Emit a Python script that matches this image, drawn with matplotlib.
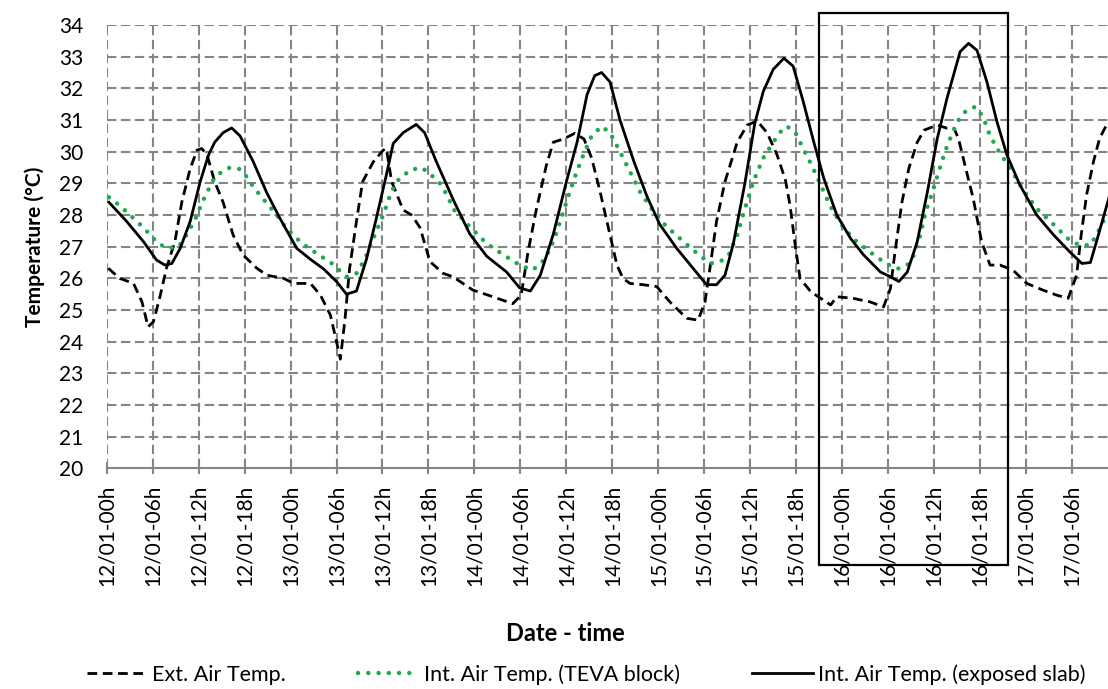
import numpy as np
import matplotlib.pyplot as plt
from matplotlib.patches import Rectangle
import matplotlib.transforms as mtransforms

plt.rcParams['font.family'] = ['Lato', 'DejaVu Sans']

# hours since 12/01 00h
tick_labels = ["12/01-00h", "12/01-06h", "12/01-12h", "12/01-18h",
               "13/01-00h", "13/01-06h", "13/01-12h", "13/01-18h",
               "14/01-00h", "14/01-06h", "14/01-12h", "14/01-18h",
               "15/01-00h", "15/01-06h", "15/01-12h", "15/01-18h",
               "16/01-00h", "16/01-06h", "16/01-12h", "16/01-18h",
               "17/01-00h", "17/01-06h"]
tick_hours = [0, 6, 12, 18, 24, 30, 36, 42, 48, 54, 60, 66, 72, 78, 84, 90,
              96, 102, 108, 114, 120, 126]

# Ext. Air Temp.
ext_h = [0.2, 1.7, 3.5, 4.6, 5.4, 6.1, 7.0, 7.8, 8.9, 9.8, 10.9, 11.8, 12.4, 13.1,
         14.1, 15.2, 16.5, 17.8, 19.6, 20.9, 23.1, 24.4, 26.6, 27.9, 29.2, 30.0,
         30.5, 31.1, 31.7, 32.6, 33.4, 34.8, 36.1, 36.5, 37.2, 38.7, 39.8, 40.9,
         42.2, 43.9, 45.2, 47.8, 50.4, 53.0, 54.1, 55.0, 56.1, 57.4, 58.3, 59.6,
         61.1, 62.3, 63.3, 64.4, 65.5, 66.6, 67.4, 68.3, 70.0, 71.8, 73.5, 75.7,
         77.2, 78.1, 78.8, 79.6, 80.7, 82.3, 83.6, 84.9, 86.2, 87.5, 88.6, 89.2,
         89.9, 90.5, 91.9, 93.2, 94.5, 95.3, 97.4, 99.6, 101.4, 102.3, 102.9,
         103.8, 104.7, 105.8, 106.7, 108.4, 109.7, 110.6, 111.2, 112.0, 113.1,
         114.2, 115.3, 116.6, 118.3, 120.1, 122.2, 124.0, 125.5, 126.6, 127.2,
         127.9, 128.8, 129.6, 130.5]
ext_t = [26.32, 26.0, 25.84, 25.26, 24.47, 24.63, 25.47, 26.32, 27.16, 28.4, 29.47,
         30.05, 30.1, 29.9, 29.05, 28.4, 27.37, 26.74, 26.32, 26.1, 26.0, 25.84,
         25.84, 25.47, 24.84, 24.0, 23.45, 24.7, 26.3, 27.8, 29.05, 29.68, 30.05,
         30.1, 29.05, 28.16, 28.0, 27.6, 26.53, 26.16, 26.05, 25.63, 25.42, 25.2,
         25.47, 26.84, 28.2, 29.58, 30.3, 30.4, 30.58, 30.4, 29.8, 28.74, 27.58,
         26.42, 26.0, 25.84, 25.8, 25.74, 25.26, 24.74, 24.68, 25.26, 26.42, 27.8,
         29.05, 30.3, 30.84, 30.97, 30.6, 29.9, 29.1, 28.3, 27.0, 26.0, 25.58,
         25.37, 25.16, 25.42, 25.37, 25.26, 25.1, 25.68, 26.84, 28.4, 29.47, 30.3,
         30.68, 30.84, 30.74, 30.74, 30.4, 29.6, 28.53, 27.16, 26.42, 26.42, 26.26,
         25.84, 25.63, 25.47, 25.37, 26.1, 27.37, 28.63, 29.68, 30.42, 30.84]

# Int. Air Temp. (TEVA block)
teva_h = [0.3, 1.7, 3.5, 4.8, 5.7, 6.7, 8.0, 9.4, 10.4, 11.5, 12.6, 13.9, 15.0,
          16.1, 17.4, 18.3, 19.1, 20.9, 22.2, 23.4, 25.5, 27.7, 29.4, 31.3, 32.6,
          33.7, 34.8, 36.1, 37.0, 37.8, 39.6, 41.1, 42.2, 43.5, 44.5, 45.2, 47.4,
          49.6, 51.8, 53.9, 55.6, 57.2, 58.3, 59.4, 60.3, 61.2, 62.3, 63.3, 64.6,
          65.7, 67.0, 68.3, 69.6, 71.4, 73.1, 75.3, 77.3, 78.8, 80.1, 81.2, 82.3,
          83.3, 84.4, 85.7, 87.0, 88.3, 88.8, 89.9, 90.9, 92.0, 93.3, 94.4, 95.9,
          97.4, 99.6, 101.7, 103.2, 104.5, 105.4, 106.2, 106.9, 107.8, 108.6,
          109.5, 110.4, 111.2, 112.2, 113.4, 114.4, 115.3, 116.6, 117.9, 119.6,
          121.4, 123.6, 125.7, 127.0, 128.4, 129.2, 130.5]
teva_t = [28.56, 28.3, 27.9, 27.6, 27.37, 27.1, 26.95, 27.0, 27.37, 27.84, 28.47,
          29.1, 29.37, 29.5, 29.45, 29.2, 28.9, 28.37, 28.0, 27.6, 27.1, 26.74,
          26.47, 26.05, 26.16, 26.6, 27.26, 28.0, 28.63, 29.05, 29.42, 29.5, 29.3,
          29.0, 28.6, 28.2, 27.63, 27.1, 26.74, 26.42, 26.26, 26.6, 27.16, 27.95,
          28.63, 29.26, 29.95, 30.5, 30.8, 30.6, 30.0, 29.37, 28.74, 28.1, 27.63,
          27.16, 26.74, 26.47, 26.53, 26.74, 27.37, 28.2, 29.05, 29.8, 30.3, 30.74,
          30.8, 30.6, 30.1, 29.58, 28.9, 28.3, 27.7, 27.26, 26.84, 26.47, 26.3,
          26.42, 26.74, 27.37, 28.1, 28.74, 29.37, 30.05, 30.6, 31.0, 31.3, 31.42,
          31.1, 30.5, 29.95, 29.5, 28.8, 28.2, 27.7, 27.2, 27.05, 27.05, 27.37, 28.0]

# Int. Air Temp. (exposed slab)
slab_h = [0.3, 2.6, 4.8, 6.5, 7.6, 8.5, 9.6, 10.9, 12.2, 13.3, 14.1, 15.2, 16.3,
          17.4, 19.1, 20.9, 22.6, 24.8, 26.6, 28.3, 30.0, 31.3, 32.6, 33.9, 35.2,
          36.5, 37.4, 38.7, 40.4, 41.5, 43.0, 45.2, 47.4, 49.6, 52.2, 53.9, 55.3,
          56.6, 58.3, 60.0, 61.4, 62.7, 63.7, 64.6, 65.7, 67.0, 68.8, 70.5, 72.2,
          74.4, 76.6, 78.3, 79.6, 80.7, 81.8, 83.3, 84.6, 85.7, 87.0, 88.4, 89.6,
          90.9, 92.3, 93.6, 95.3, 97.1, 98.8, 101.0, 102.3, 103.4, 104.5, 105.8,
          107.1, 108.4, 109.7, 111.4, 112.5, 113.6, 114.9, 116.2, 117.5, 119.2,
          121.4, 123.6, 125.7, 127.3, 128.4, 129.2, 130.3, 131.0]
slab_t = [28.4, 27.8, 27.16, 26.58, 26.42, 26.47, 26.95, 27.8, 29.05, 29.9, 30.3,
          30.6, 30.75, 30.5, 29.7, 28.7, 27.9, 26.95, 26.6, 26.3, 25.9, 25.5, 25.6,
          26.6, 27.9, 29.26, 30.26, 30.6, 30.86, 30.6, 29.7, 28.5, 27.4, 26.7, 26.2,
          25.7, 25.6, 26.1, 27.4, 29.05, 30.3, 31.8, 32.4, 32.5, 32.2, 31.0, 29.7,
          28.6, 27.7, 26.95, 26.3, 25.8, 25.8, 26.1, 27.1, 29.0, 30.9, 31.9, 32.6,
          32.95, 32.7, 31.6, 30.3, 29.16, 28.0, 27.26, 26.74, 26.2, 26.05, 25.9,
          26.2, 27.16, 28.7, 30.4, 31.7, 33.16, 33.42, 33.2, 32.2, 30.95, 29.9,
          28.95, 28.0, 27.37, 26.84, 26.47, 26.5, 27.16, 28.1, 28.7]

highlight = (93.0, 117.6)

fig = plt.figure(figsize=(11.08, 6.89), dpi=100)
ax = fig.add_axes([0.0963, 0.3202, 0.9037, 0.6435])

grid_kw = dict(color='#858585', linewidth=1.5, linestyle=(0, (4.5, 2.2)), zorder=0)
for y in range(21, 35):
    ax.axhline(y, **grid_kw)
for h in tick_hours:
    ax.axvline(h, **grid_kw)

ax.plot(ext_h, ext_t, color='black', linewidth=2, linestyle=(0, (3.5, 2)),
        label='Ext. Air Temp.')
ax.plot(teva_h, teva_t, color='#1fa84f', linewidth=3.2, linestyle=(0, (0.01, 2.3)),
        dash_capstyle='round', label='Int. Air Temp. (TEVA block)')
ax.plot(slab_h, slab_t, color='black', linewidth=2,
        label='Int. Air Temp. (exposed slab)')

ax.set_xlim(0, 130.7)
ax.set_ylim(20, 34)
ax.set_yticks(range(20, 35))
ax.set_xticks(tick_hours)
ax.set_xticklabels(tick_labels, rotation=90, fontsize=15)
ax.tick_params(axis='y', length=0, pad=17, labelsize=15)
ax.tick_params(axis='x', direction='inout', length=8, width=1.5, color='#858585', pad=8)

for s in ['top', 'right', 'left']:
    ax.spines[s].set_visible(False)
ax.spines['bottom'].set_color('#858585')
ax.spines['bottom'].set_linewidth(1.5)

ax.set_ylabel('Temperature (°C)', fontsize=15, fontweight='bold', labelpad=10)
fig.text(0.51, 0.081, 'Date - time', fontsize=17, fontweight='bold', ha='center', va='center')

trans = mtransforms.blended_transform_factory(ax.transData, ax.transAxes)
box = Rectangle((highlight[0], -0.218), highlight[1] - highlight[0], 1.246,
                transform=trans, fill=False, edgecolor='black', linewidth=1.6,
                clip_on=False, zorder=5)
ax.add_patch(box)

fig.legend(loc='center', bbox_to_anchor=(0.529, 0.021), ncol=3, frameon=False,
           fontsize=15.5, handlelength=2.8, columnspacing=3.35, handletextpad=0.25)

fig.savefig('out.png', dpi=100)
